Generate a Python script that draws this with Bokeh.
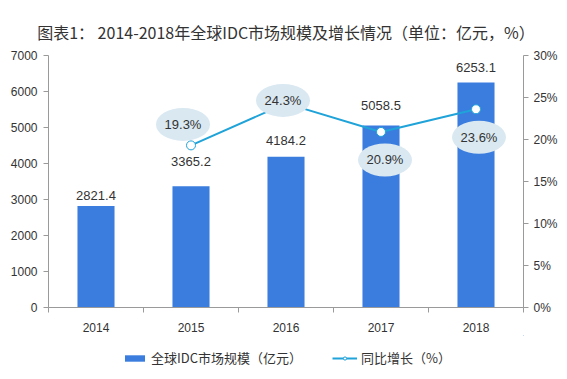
from bokeh.plotting import figure
from bokeh.layouts import column
from bokeh.models import (Range1d, LinearAxis, FixedTicker, PrintfTickFormatter,
                          Legend, LegendItem)
from bokeh.core.properties import value
from bokeh.embed import file_html
from bokeh.resources import INLINE

# ---- data ----
years = ["2014", "2015", "2016", "2017", "2018"]
market_size = [2821.4, 3365.2, 4184.2, 5058.5, 6253.1]   # 亿元
growth_years = ["2015", "2016", "2017", "2018"]
growth_pct = [19.3, 24.3, 20.9, 23.6]                    # %
series_names = ["全球IDC市场规模（亿元）", "同比增长（%）"]

# ---- styles ----
BAR_COLOR = "#3a7ddf"
LINE_COLOR = "#1fa3d8"
BUBBLE_COLOR = "#d9e8f1"
TEXT_COLOR = "#333333"
AXIS_COLOR = "#9a9a9a"
CJK = "Noto Sans CJK SC"
LATIN = "Liberation Sans"

# label placement (screen px)
bar_label_dy = [10, 25, 16, 20, 15]
bubble_dx = [-8, -3, 4, 3]
bubble_dy = [21, 3, -28, -28]

W = 567
H_MAIN, H_LEG = 335, 44
p = figure(width=W, height=H_MAIN, output_backend="svg", toolbar_location=None,
           x_range=Range1d(0.5, 5.5), y_range=Range1d(0, 7000),
           min_border_left=48, min_border_right=44, min_border_top=55,
           min_border_bottom=28)
p.outline_line_color = None
p.xgrid.visible = False
p.ygrid.visible = False
p.background_fill_color = "white"
p.border_fill_color = "white"

p.title.text = "图表1： 2014-2018年全球IDC市场规模及增长情况（单位：亿元，%）"
p.title.align = "center"
p.title.text_font = CJK
p.title.text_font_size = "16px"
p.title.text_font_style = "normal"
p.title.text_color = TEXT_COLOR
p.title.standoff = 24

xi = {y: i + 1 for i, y in enumerate(years)}
bar_x = [xi[y] for y in years]

p.extra_y_ranges = {"pct": Range1d(0, 30)}

p.vbar(x=bar_x, top=market_size, width=0.39, fill_color=BAR_COLOR,
       line_color=None)

p.text(x=bar_x, y=market_size, text=[f"{v:.1f}" for v in market_size],
       y_offset=[-d for d in bar_label_dy], text_align="center",
       text_baseline="middle", text_font=value(LATIN), text_font_size="13px",
       text_color=TEXT_COLOR)

gx = [xi[y] for y in growth_years]
p.line(gx, growth_pct, y_range_name="pct", line_color=LINE_COLOR, line_width=2)
p.scatter(gx, growth_pct, y_range_name="pct", size=9, marker="circle",
          fill_color="white", line_color=LINE_COLOR, line_width=1)

px_x = 95.0
px_y = 252.0 / 30.0
bx = [x + dx / px_x for x, dx in zip(gx, bubble_dx)]
by = [g + dy / px_y for g, dy in zip(growth_pct, bubble_dy)]
p.ellipse(x=bx, y=by, width=54, height=33, width_units="screen",
          height_units="screen", y_range_name="pct", fill_color=BUBBLE_COLOR,
          line_color=None)
p.text(x=bx, y=by, text=[f"{g:.1f}%" for g in growth_pct], y_range_name="pct",
       text_align="center", text_baseline="middle", text_font=value(LATIN),
       text_font_size="13px", text_color=TEXT_COLOR)

xa = p.xaxis[0]
xa.ticker = FixedTicker(ticks=bar_x, minor_ticks=[0.5 + i for i in range(6)])
xa.major_label_overrides = {xi[y]: y for y in years}
xa.major_tick_line_color = None
xa.minor_tick_line_color = AXIS_COLOR
xa.minor_tick_out = 5
xa.minor_tick_in = 0
xa.axis_line_color = AXIS_COLOR
xa.major_label_text_font = LATIN
xa.major_label_text_font_size = "12px"
xa.major_label_text_color = TEXT_COLOR
xa.major_label_standoff = 9

ya = p.yaxis[0]
ya.ticker = FixedTicker(ticks=list(range(0, 7001, 1000)))
ya.minor_tick_line_color = None
ya.major_tick_out = 5
ya.major_tick_in = 0
ya.axis_line_color = AXIS_COLOR
ya.major_tick_line_color = AXIS_COLOR
ya.major_label_text_font = LATIN
ya.major_label_text_font_size = "12px"
ya.major_label_text_color = TEXT_COLOR
ya.major_label_standoff = 6

ra = LinearAxis(y_range_name="pct", ticker=FixedTicker(ticks=list(range(0, 31, 5))),
                formatter=PrintfTickFormatter(format="%d%%"))
ra.minor_tick_line_color = None
ra.major_tick_out = 5
ra.major_tick_in = 0
ra.axis_line_color = AXIS_COLOR
ra.major_tick_line_color = AXIS_COLOR
ra.major_label_text_font = LATIN
ra.major_label_text_font_size = "12px"
ra.major_label_text_color = TEXT_COLOR
ra.major_label_standoff = 5
p.add_layout(ra, "right")

# ---- legend strip (separate figure under the chart) ----
# the legend renderers carry the real series but sit outside this strip's view
lf = figure(width=W, height=H_LEG, output_backend="svg", toolbar_location=None,
            x_range=Range1d(-20, -10), y_range=Range1d(-20, -10),
            x_axis_type=None, y_axis_type=None, min_border=0)
lf.outline_line_color = None
lf.xgrid.visible = False
lf.ygrid.visible = False
lf.border_fill_color = "white"
lb = lf.vbar(x=bar_x, top=market_size, width=0.39, fill_color=BAR_COLOR,
             line_color=None)
ll = lf.line(gx, growth_pct, line_color=LINE_COLOR, line_width=2)
ls = lf.scatter(gx, growth_pct, size=9, marker="circle", fill_color="white",
                line_color=LINE_COLOR, line_width=1)

legend = Legend(items=[
    LegendItem(label=series_names[0], renderers=[lb]),
    LegendItem(label=series_names[1], renderers=[ll, ls]),
], orientation="horizontal", location=(74, 12))
legend.border_line_color = None
legend.background_fill_color = None
legend.background_fill_alpha = 0
legend.label_text_font = CJK
legend.label_text_font_size = "13px"
legend.label_text_color = TEXT_COLOR
legend.glyph_width = 25
legend.glyph_height = 8
legend.label_height = 18
legend.spacing = 30
legend.label_standoff = 4
legend.padding = 4
legend.margin = 0
lf.add_layout(legend, "center")

layout = column(p, lf, spacing=0)
open("out.html", "w").write(file_html(layout, INLINE))
